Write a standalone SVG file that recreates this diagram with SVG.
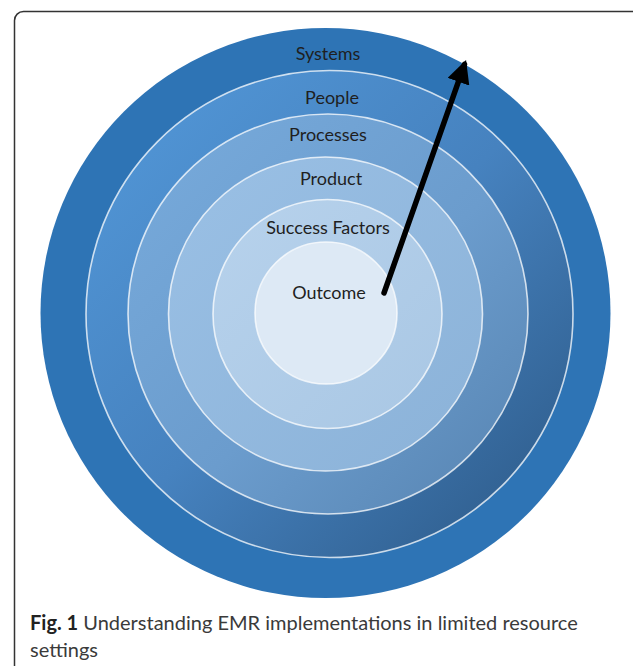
<svg xmlns="http://www.w3.org/2000/svg" width="633" height="666" viewBox="0 0 633 666">
<defs>
<style>
.ring{stroke:#ffffff;stroke-opacity:0.75;stroke-width:1.6}
.lbl{font-family:Lato,"Open Sans","Liberation Sans",sans-serif;font-size:18px;fill:#1f1f1f;text-anchor:middle}
.cap{font-family:Lato,"Open Sans","Liberation Sans",sans-serif;font-size:20px;fill:#3a3a3a;font-weight:400}
</style>
<linearGradient id="gPeople" x1="0" y1="0" x2="1" y2="1">
<stop offset="0" stop-color="#5399da"/>
<stop offset="0.5" stop-color="#4682bf"/>
<stop offset="1" stop-color="#2b5784"/>
</linearGradient>
<linearGradient id="gProc" x1="0" y1="0" x2="1" y2="1">
<stop offset="0" stop-color="#78abdc"/>
<stop offset="0.55" stop-color="#6b9ccd"/>
<stop offset="1" stop-color="#5683b0"/>
</linearGradient>
<linearGradient id="gProd" x1="0" y1="0" x2="1" y2="1">
<stop offset="0" stop-color="#9ac0e5"/>
<stop offset="1" stop-color="#8bb2d8"/>
</linearGradient>
<linearGradient id="gSucc" x1="0" y1="0" x2="1" y2="1">
<stop offset="0" stop-color="#b7d2ec"/>
<stop offset="1" stop-color="#a9c7e4"/>
</linearGradient>
<marker id="ah" viewBox="0 0 10 10" refX="8" refY="5" markerWidth="4.2" markerHeight="4.2" orient="auto" markerUnits="strokeWidth">
<path d="M0,0 L10,5 L0,10 Z" fill="#000000"/>
</marker>
</defs>
<rect x="14.5" y="11.5" width="630" height="668" rx="9" ry="9" fill="#ffffff" stroke="#333333" stroke-width="1.5"/>
<g id="systems">
<circle cx="325.5" cy="313" r="285" fill="#2e74b5"/>
<text class="lbl" x="328" y="60">Systems</text>
</g>
<g id="people">
<circle class="ring" cx="329.5" cy="314" r="243.5" fill="url(#gPeople)"/>
<text class="lbl" x="332" y="104">People</text>
</g>
<g id="processes">
<circle class="ring" cx="328" cy="314" r="200" fill="url(#gProc)"/>
<text class="lbl" x="328" y="141">Processes</text>
</g>
<g id="product">
<circle class="ring" cx="325.5" cy="314" r="157" fill="url(#gProd)"/>
<text class="lbl" x="331" y="185">Product</text>
</g>
<g id="success-factors">
<circle class="ring" cx="327.5" cy="314" r="114.5" fill="url(#gSucc)"/>
<text class="lbl" x="328" y="234">Success Factors</text>
</g>
<g id="outcome">
<circle class="ring" cx="326" cy="313" r="71" fill="#dde9f5"/>
<text class="lbl" x="329" y="299">Outcome</text>
</g>
<g id="connectors">
<line x1="384" y1="293" x2="464.5" y2="64.3" stroke="#000000" stroke-width="5.5" stroke-linecap="round" marker-end="url(#ah)"/>
</g>
<g id="caption">
<text class="cap" x="30" y="630"><tspan font-weight="700" fill="#222222">Fig. 1</tspan> Understanding EMR implementations in limited resource</text>
<text class="cap" x="30" y="657">settings</text>
</g>
</svg>
